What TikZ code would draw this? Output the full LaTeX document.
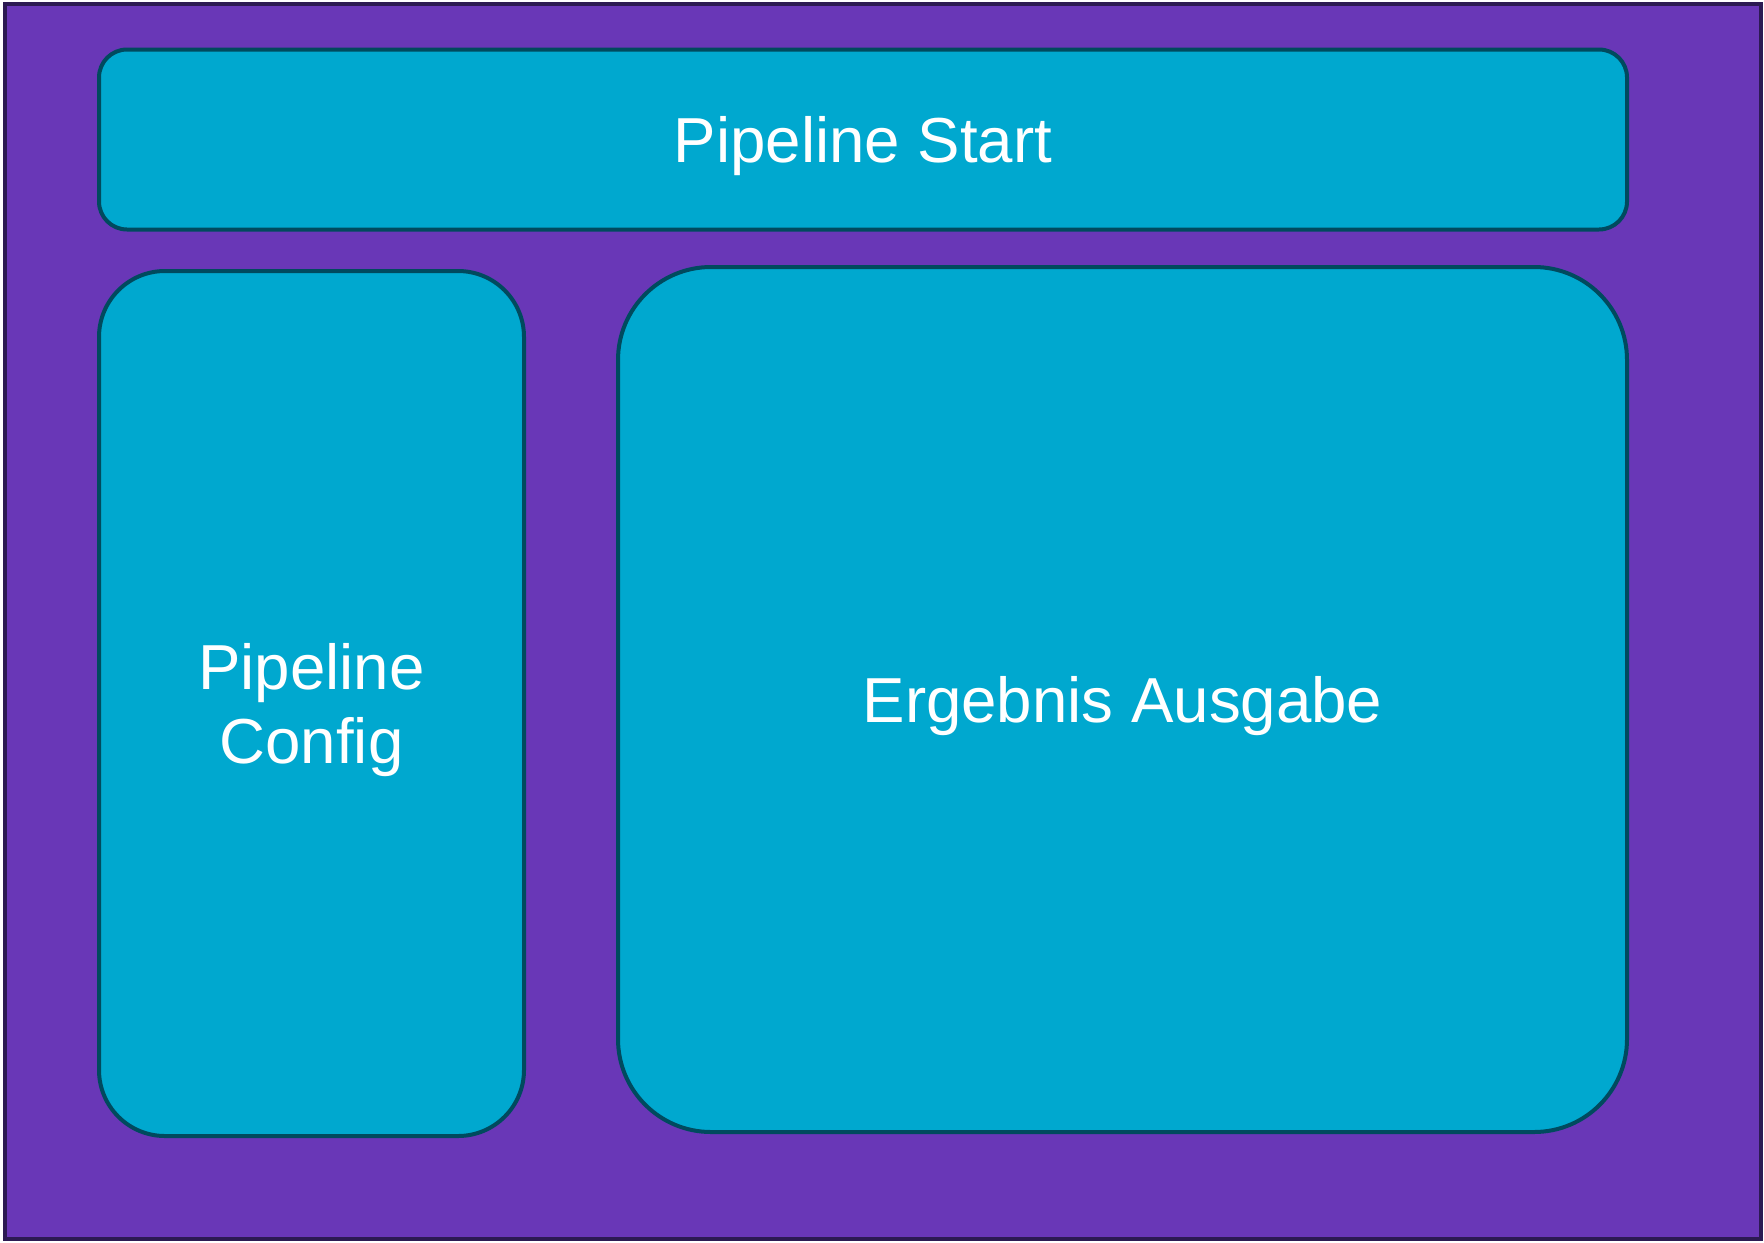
\documentclass[tikz,border=0pt]{standalone}
\usepackage{fontspec}
\setmainfont{Liberation Sans}
\usepackage{tikz}
\usetikzlibrary{backgrounds}
\definecolor{bgpurple}{HTML}{6937B7}
\definecolor{bgline}{HTML}{2C1A52}
\definecolor{boxfill}{HTML}{00A8CF}
\definecolor{boxline}{HTML}{004A5E}

\begin{document}
\begin{tikzpicture}[x=0.5pt, y=-0.5pt,
  panel/.style={draw=boxline, fill=boxfill, line width=2pt, text=white,
    font=\fontsize{31.8}{37}\selectfont, align=center, inner sep=0pt,
    text height=22.8pt, text depth=0pt}]
  \useasboundingbox (0,0) rectangle (1764,1242);
  \draw[bgline, fill=bgpurple, line width=2pt] (5,3.5) rectangle (1761,1239);
  \node[panel, rounded corners=14pt, minimum width=764pt, minimum height=90pt] (start) at (863,139.5) {Pipeline Start};
  \node[panel, rounded corners=33pt, minimum width=212.5pt, minimum height=432.5pt, text height=59.8pt] (config) at (311.5,703.5) {Pipeline\\Config};
  \node[panel, rounded corners=46.5pt, minimum width=504.5pt, minimum height=432.5pt] (output) at (1122.5,699.5) {Ergebnis Ausgabe};
\end{tikzpicture}
\end{document}
